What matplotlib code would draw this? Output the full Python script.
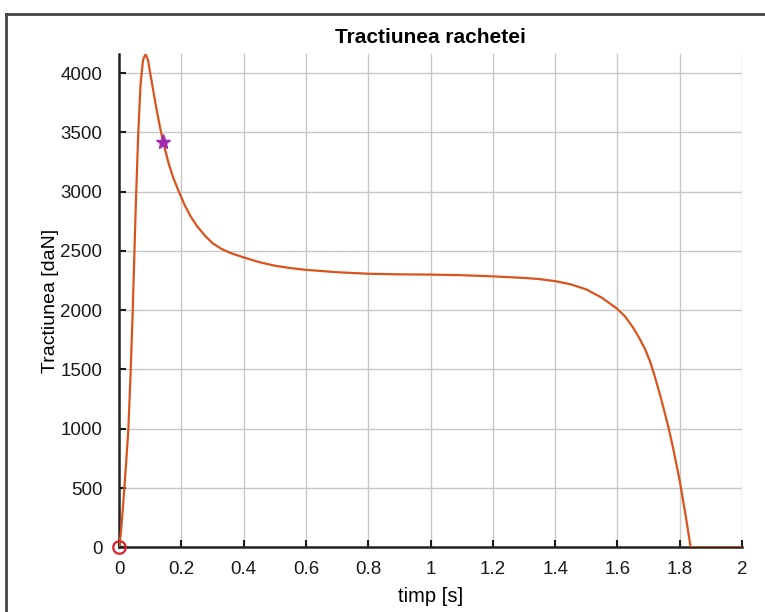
import numpy as np
import matplotlib
matplotlib.use("Agg")
import matplotlib.pyplot as plt
from matplotlib.lines import Line2D

plt.rcParams['font.family'] = ['Liberation Sans', 'DejaVu Sans']

# values
timp = [0, 0.005, 0.01, 0.017, 0.024, 0.03, 0.0376, 0.044, 0.049, 0.054, 0.0615, 0.069,
        0.077, 0.085, 0.093, 0.10, 0.11, 0.12, 0.131, 0.142, 0.16, 0.175, 0.192, 0.21,
        0.23, 0.25, 0.277, 0.30, 0.33, 0.36, 0.40, 0.45, 0.50, 0.55, 0.60, 0.70, 0.80,
        0.90, 1.0, 1.1, 1.2, 1.3, 1.35, 1.4, 1.45, 1.5, 1.55, 1.6, 1.625, 1.651, 1.67,
        1.689, 1.705, 1.72, 1.74, 1.764, 1.78, 1.80, 1.82, 1.835, 2.0]
tractiune = [0, 100, 250, 500, 760, 1000, 1500, 2000, 2450, 2900, 3480, 3900,
             4110, 4160, 4110, 4000, 3850, 3700, 3550, 3414, 3230, 3110, 3000, 2890,
             2790, 2710, 2625, 2565, 2515, 2480, 2445, 2405, 2375, 2355, 2340, 2320, 2307,
             2302, 2300, 2295, 2285, 2272, 2262, 2245, 2218, 2175, 2105, 2010, 1945, 1850, 1765,
             1670, 1565, 1440, 1255, 1010, 820, 560, 250, 0, 0]
start_pt = (0, 0)
star_pt = (0.142, 3414)

fig = plt.figure(figsize=(7.65, 6.12), dpi=100)
ax = fig.add_axes([0.1556, 0.1057, 0.8144, 0.806])

ax.plot(timp, tractiune, color='#d9541c', lw=1.6, zorder=3)
ax.plot(*start_pt, 'o', mfc='none', mec='#e0202a', ms=9, mew=1.6, zorder=4, clip_on=False)
ax.plot(*star_pt, '*', color='#a02ab0', ms=11, zorder=4)

ax.set_xlim(0, 2)
ax.set_ylim(0, max(tractiune))
ax.set_xticks(np.arange(0, 2.01, 0.2))
ax.set_xticklabels(['0', '0.2', '0.4', '0.6', '0.8', '1', '1.2', '1.4', '1.6', '1.8', '2'])
ax.set_yticks(np.arange(0, 4001, 500))
ax.grid(True, color='#c8c8c8', lw=1)
ax.set_axisbelow(True)

for s in ['top', 'right']:
    ax.spines[s].set_visible(False)
for s in ['left', 'bottom']:
    ax.spines[s].set_linewidth(1.8)
    ax.spines[s].set_color('#222222')
    ax.spines[s].set_zorder(2)
ax.tick_params(direction='in', length=5, width=1.5, labelsize=13.5, colors='#1a1a1a')
ax.tick_params(axis='x', pad=10)
ax.tick_params(axis='y', pad=12)

ax.set_title('Tractiunea rachetei', fontsize=15, fontweight='bold', pad=8)
ax.set_xlabel('timp [s]', fontsize=14.5, labelpad=6)
ax.set_ylabel('Tractiunea [daN]', fontsize=14, labelpad=1)

# dark frame around the figure (left and top visible)
fig.add_artist(Line2D([6 / 765, 6 / 765], [0, 1 - 14 / 612], color='#444444', lw=2))
fig.add_artist(Line2D([6 / 765, 1], [1 - 14 / 612, 1 - 14 / 612], color='#444444', lw=2))

fig.savefig('out.png', dpi=100)
